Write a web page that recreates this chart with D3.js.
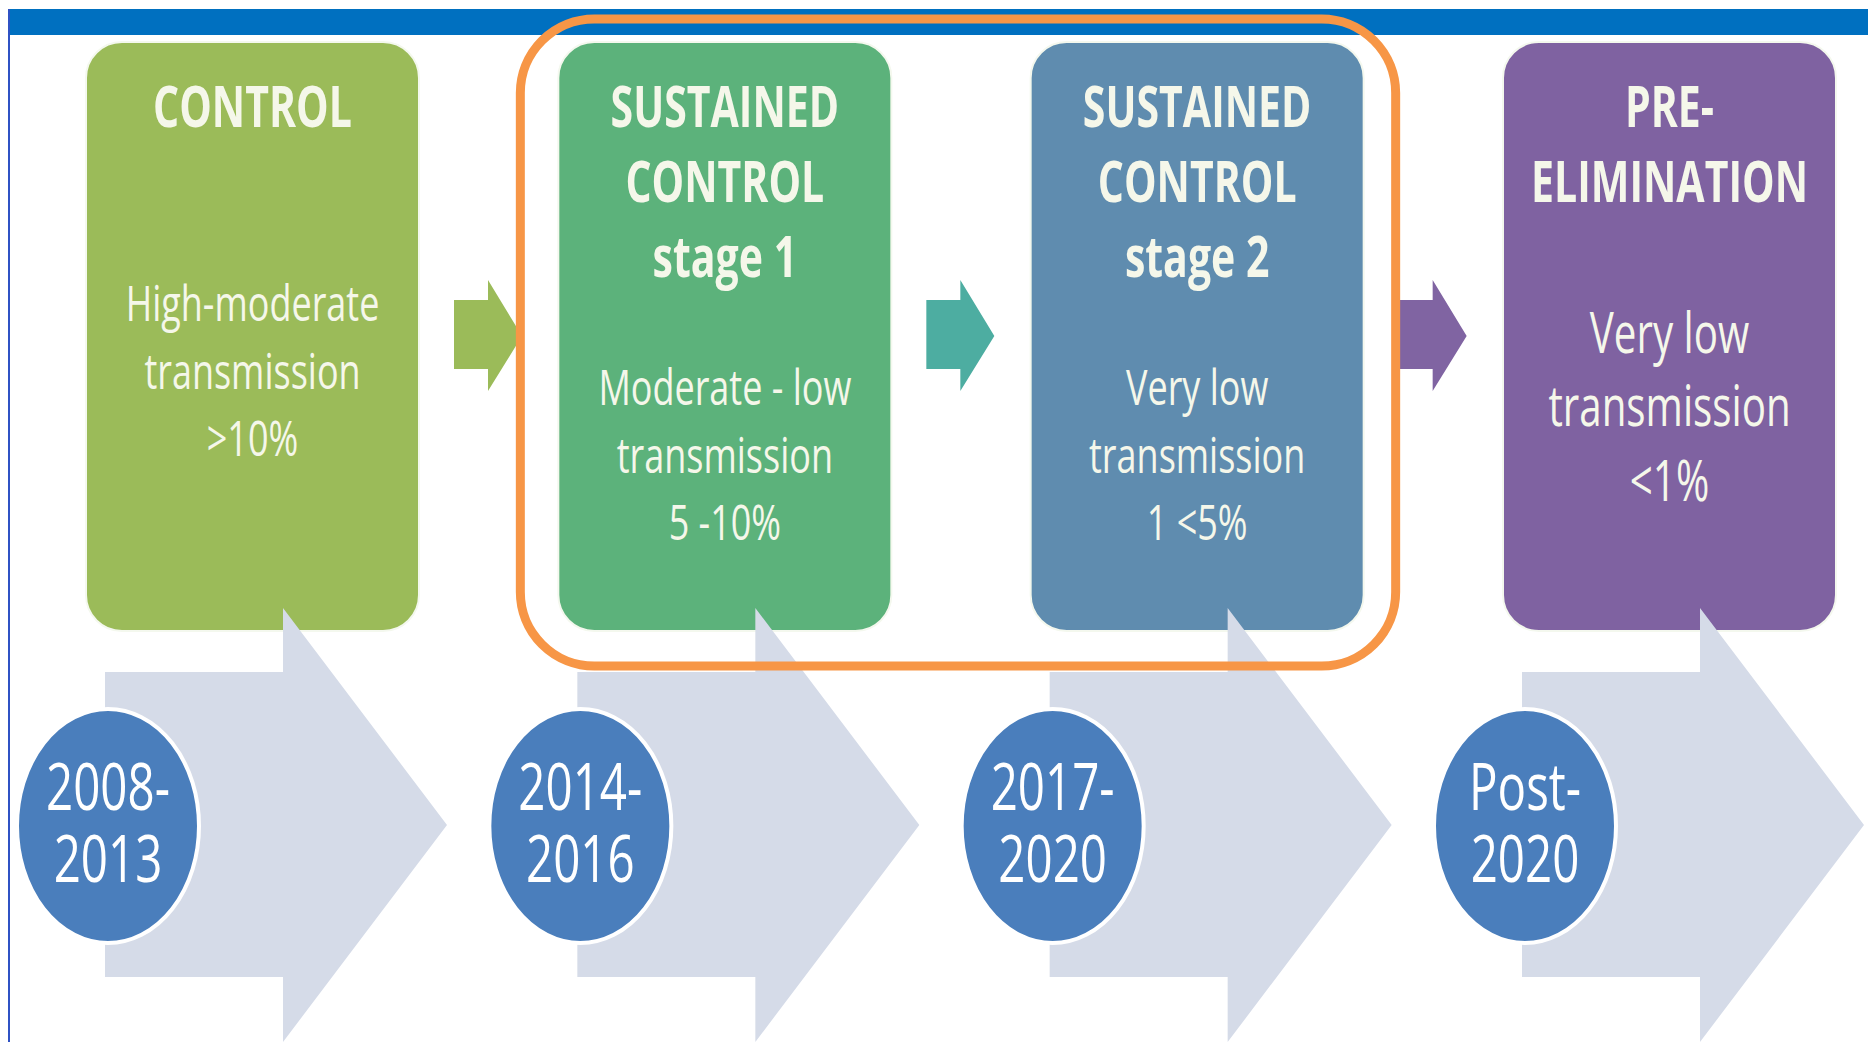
<!doctype html>
<html>
  <head>
    <meta charset="utf-8">
    <title>Malaria control stages</title>
    <script src="https://d3js.org/d3.v7.min.js"></script>
    <style>
      body { margin: 0; background: #fff; }
      text { font-family: "Open Sans", "Liberation Sans", sans-serif; }
    </style>
  </head>
  <body>
  <script>
    // stages, left to right
    var titles = [
      ["CONTROL"],
      ["SUSTAINED", "CONTROL", "stage 1"],
      ["SUSTAINED", "CONTROL", "stage 2"],
      ["PRE-", "ELIMINATION"]
    ];
    var descriptions = [
      ["High-moderate", "transmission", ">10%"],
      ["Moderate - low", "transmission", "5 -10%"],
      ["Very low", "transmission", "1 <5%"],
      ["Very low", "transmission", "<1%"]
    ];
    var periods = [
      ["2008-", "2013"],
      ["2014-", "2016"],
      ["2017-", "2020"],
      ["Post-", "2020"]
    ];
    var boxColors = ["#9bbb59", "#5cb27b", "#5f8caf", "#7f62a1"];
    var stepColors = ["#9bbb59", "#4dada1", "#8064a2"];

    var width = 1868, height = 1042;
    var svg = d3.select("body").append("svg").attr("width", width).attr("height", height);

    var x = d3.scaleLinear().domain([0, 3]).range([86, 1503]);
    var boxW = 333, boxTop = 42, boxH = 589;
    var sx = 0.72; // text is squeezed horizontally in the original

    // top bar + left border
    svg.append("rect").attr("x", 9).attr("y", 9).attr("width", width - 9).attr("height", 26).attr("fill", "#0070c0");
    svg.append("rect").attr("x", 8).attr("y", 9).attr("width", 2).attr("height", height - 9).attr("fill", "#2f52c4");

    // stage boxes
    var stage = svg.selectAll(".stage")
      .data(titles)
      .enter().append("g")
        .attr("class", "stage");

    stage.append("rect")
        .attr("x", function(d, i){ return x(i); })
        .attr("y", boxTop)
        .attr("width", boxW)
        .attr("height", boxH)
        .attr("rx", 36)
        .attr("fill", function(d, i){ return boxColors[i]; })
        .attr("stroke", "#f4f8ee")
        .attr("stroke-width", 2);

    var titleY = [127, 202, 277];
    var bodyY = [[321, 389, 456], [405, 473, 540], [405, 473, 540], [353, 426, 501]];
    var bodySize = [50, 50, 50, 56];

    stage.each(function(d, i){
      var g = d3.select(this), cx = x(i) + boxW / 2;
      d.forEach(function(line, j){
        g.append("text")
          .attr("transform", "translate(" + cx + "," + titleY[j] + ") scale(" + sx + ",1)")
          .attr("text-anchor", "middle")
          .attr("font-size", 57)
          .attr("font-weight", "bold")
          .attr("fill", "#f5f7ea")
          .text(line);
      });
      descriptions[i].forEach(function(line, j){
        g.append("text")
          .attr("transform", "translate(" + cx + "," + bodyY[i][j] + ") scale(" + sx + ",1)")
          .attr("text-anchor", "middle")
          .attr("font-size", bodySize[i])
          .attr("fill", "#f5f7ea")
          .text(line);
      });
    });

    // big timeline arrows
    function bigArrow(x0){
      return "M" + x0 + ",672 L" + (x0 + 178) + ",672 L" + (x0 + 178) + ",608 L" + (x0 + 342) + ",825 L" +
        (x0 + 178) + ",1042 L" + (x0 + 178) + ",977 L" + x0 + ",977 Z";
    }
    svg.selectAll(".big-arrow")
      .data(periods)
      .enter().append("path")
        .attr("class", "big-arrow")
        .attr("d", function(d, i){ return bigArrow(x(i) + 19); })
        .attr("fill", "#d5dbe8");

    // period circles
    var period = svg.selectAll(".period")
      .data(periods)
      .enter().append("g")
        .attr("class", "period")
        .attr("transform", function(d, i){ return "translate(" + (x(i) + 22) + ",826)"; });

    period.append("ellipse")
        .attr("rx", 91)
        .attr("ry", 117)
        .attr("fill", "#4a7ebc")
        .attr("stroke", "#ffffff")
        .attr("stroke-width", 4);

    period.selectAll("text")
      .data(function(d){ return d; })
      .enter().append("text")
        .attr("transform", function(d, j){ return "translate(0," + (j ? 56 : -16) + ") scale(0.72,1)"; })
        .attr("text-anchor", "middle")
        .attr("font-size", 66)
        .attr("fill", "#ffffff")
        .text(function(d){ return d; });

    // small step arrows between boxes
    function stepArrow(x0){
      return "M" + x0 + ",300 L" + (x0 + 34) + ",300 L" + (x0 + 34) + ",280 L" + (x0 + 68) + ",336 L" +
        (x0 + 34) + ",391 L" + (x0 + 34) + ",369 L" + x0 + ",369 Z";
    }
    svg.selectAll(".step")
      .data(stepColors)
      .enter().append("path")
        .attr("class", "step")
        .attr("d", function(d, i){ return stepArrow(x(i) + 368); })
        .attr("fill", function(d){ return d; });

    // orange highlight around sustained control stages
    svg.append("rect")
        .attr("x", x(1) - 38)
        .attr("y", 19)
        .attr("width", x(2) + boxW + 32 - (x(1) - 38))
        .attr("height", 647)
        .attr("rx", 74)
        .attr("fill", "none")
        .attr("stroke", "#f79646")
        .attr("stroke-width", 9);
  </script>
  </body>
</html>
